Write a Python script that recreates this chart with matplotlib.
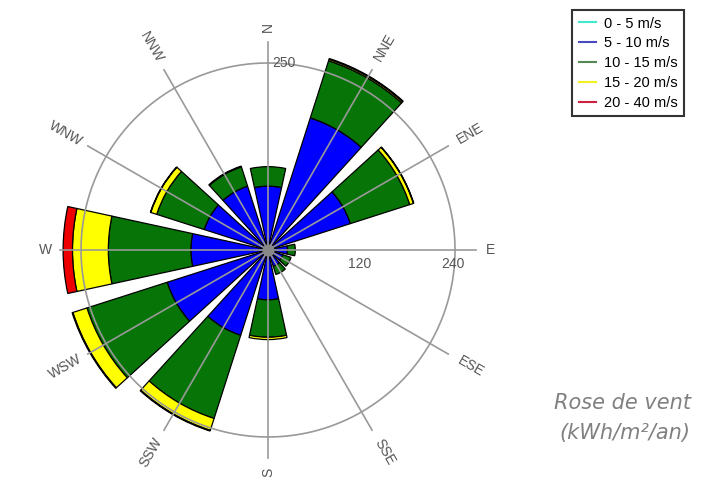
import numpy as np
import matplotlib
matplotlib.use('Agg')
import matplotlib.pyplot as plt
from matplotlib.lines import Line2D

plt.rcParams['font.family'] = ['Liberation Sans', 'DejaVu Sans']

directions = ['N', 'NNE', 'ENE', 'E', 'ESE', 'SSE', 'S', 'SSW', 'WSW', 'W', 'WNW', 'NNW']
angles_deg = [0, 30, 60, 90, 120, 150, 180, 210, 240, 270, 300, 330]

bins = ['0 - 5 m/s', '5 - 10 m/s', '10 - 15 m/s', '15 - 20 m/s', '20 - 40 m/s']
v_0_5 = [2, 2, 2, 2, 2, 2, 2, 2, 2, 2, 2, 2]
v_5_10 = [80, 176, 109, 23, 18, 20, 62, 113, 134, 97, 84, 84]
v_10_15 = [25, 77, 80, 10, 11, 11, 48, 112, 108, 106, 64, 26]
v_15_20 = [0, 2, 5, 0, 0, 0, 3, 16, 19, 46, 8, 1]
v_20_40 = [0, 1, 0.5, 0, 0, 0, 0, 1, 1, 12, 0.5, 0]

colors = ['#00e8e8', '#0000ff', '#077407', '#ffff00', '#ee0000']
legend_colors = ['#40e8d0', '#4848c0', '#558855', '#f0f020', '#d02040']

ring_labels = ['120', '240']
ring_values = [120, 240]

fig = plt.figure(figsize=(7.07, 4.78), dpi=100)
ax = fig.add_axes([0.0484, -0.012, 0.6614, 0.978], projection='polar')
ax.set_theta_zero_location('N')
ax.set_theta_direction(-1)
ax.set_ylim(0, 300)
ax.axis('off')

theta = np.deg2rad(angles_deg)
width = np.deg2rad(24.5)
bottom = np.zeros(len(directions))
for vals, c in zip([v_0_5, v_5_10, v_10_15, v_15_20, v_20_40], colors):
    vals = np.array(vals, dtype=float)
    m = vals > 0
    ax.bar(theta[m], vals[m], width=width, bottom=bottom[m], color=c,
           edgecolor='black', linewidth=0.9, zorder=2)
    bottom += vals

# grid drawn over the bars
t = np.linspace(0, 2 * np.pi, 400)
ax.plot(t, np.full_like(t, 240), color='#999999', lw=1.2, zorder=3)
for th in theta:
    ax.plot([th, th], [0, 267], color='#999999', lw=1.2, zorder=3)
ax.scatter([0], [0], s=60, color='#888888', zorder=4)

for name, a in zip(directions, angles_deg):
    rot = 90 - a
    while rot > 90:
        rot -= 180
    while rot <= -90:
        rot += 180
    r = 286 if len(name) == 1 else 300
    ax.text(np.deg2rad(a), r, name, rotation=rot, ha='center', va='center',
            rotation_mode='anchor', fontsize=10, color='#555555')

for lab, v in zip(ring_labels, ring_values):
    ax.annotate(lab, xy=(np.pi / 2, v - 3), xytext=(0, -10), textcoords='offset points',
                ha='center', va='center', fontsize=10, color='#555555')
ax.annotate('250', xy=(0, 240), xytext=(3, 0), textcoords='offset points',
            ha='left', va='center', fontsize=10, color='#555555')

handles = [Line2D([0], [0], color=c, lw=1.5) for c in legend_colors]
leg = fig.legend(handles, bins, loc='upper left', bbox_to_anchor=(572 / 707, 1 - 10 / 478),
                 fontsize=10.5, frameon=True, fancybox=False, handlelength=1.2,
                 handletextpad=0.55, labelspacing=0.4, borderpad=0.45, borderaxespad=0)
leg.get_frame().set_edgecolor('black')
leg.get_frame().set_linewidth(1.5)

fig.text(623 / 707, 1 - 403 / 478, 'Rose de vent', ha='center', va='center',
         fontsize=15, style='italic', color='#808080', family='DejaVu Sans')
fig.text(625 / 707, 1 - 433 / 478, '(kWh/m²/an)', ha='center', va='center',
         fontsize=15, style='italic', color='#808080', family='DejaVu Sans')

fig.savefig('out.png', dpi=100)
